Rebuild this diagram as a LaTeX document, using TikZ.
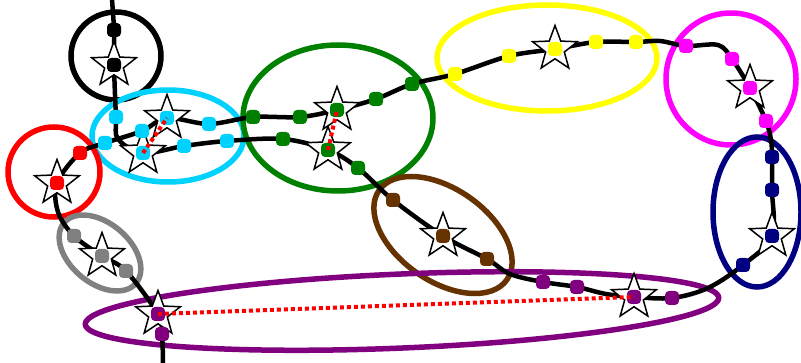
\documentclass[tikz,border=0pt]{standalone}
\usepackage{xcolor}
\usetikzlibrary{shapes.geometric, backgrounds}

\definecolor{grpCyan}{RGB}{0,210,255}
\definecolor{grpGreen}{RGB}{0,128,0}
\definecolor{grpYellow}{RGB}{255,255,0}
\definecolor{grpMagenta}{RGB}{255,0,255}
\definecolor{grpNavy}{RGB}{0,0,128}
\definecolor{grpBrown}{RGB}{102,51,0}
\definecolor{grpPurple}{RGB}{128,0,128}
\definecolor{grpGray}{RGB}{128,128,128}
\definecolor{grpRed}{RGB}{255,0,0}

\begin{document}
\begin{tikzpicture}[
    x=1pt, y=-1pt,
    ring/.style={line width=5.5pt},
    track/.style={line width=4.5pt, line cap=round, line join=round},
    dot/.style={
        rectangle, rounded corners=4pt, minimum size=14pt, inner sep=0pt
    },
    keystar/.style={
        star, star points=5, star point ratio=2.4, minimum size=47pt,
        inner sep=0pt, draw=black, line width=1.5pt, fill=white
    },
    link/.style={draw=red, line width=4pt, dash pattern=on 4pt off 3pt}
]
\useasboundingbox (0,0) rectangle (801,363);

% Stars
\node[keystar] (blkStar)  at (114,65)  {};
\node[keystar] (cynStarA) at (143,153) {};
\node[keystar] (cynStarB) at (167,118) {};
\node[keystar] (grnStarA) at (328,150) {};
\node[keystar] (grnStarB) at (337,110) {};
\node[keystar] (brnStar)  at (443,236) {};
\node[keystar] (purStarA) at (158,314) {};
\node[keystar] (purStarB) at (634,297) {};
\node[keystar] (navStar)  at (772,236) {};
\node[keystar] (magStar)  at (750,88)  {};
\node[keystar] (yelStar)  at (555,49)  {};
\node[keystar] (redStar)  at (57,183)  {};
\node[keystar] (gryStar)  at (102,256) {};

% Dots
\node[dot, fill=black] (blkA) at (114,30) {};
\node[dot, fill=black] (blkS) at (blkStar) {};

\node[dot, fill=grpCyan] (cynA) at (116,117) {};
\node[dot, fill=grpCyan] (cynSA) at (cynStarA) {};
\node[dot, fill=grpCyan] (cynB) at (184,146) {};
\node[dot, fill=grpCyan] (cynC) at (227,141) {};
\node[dot, fill=grpCyan] (cynD) at (209,124) {};
\node[dot, fill=grpCyan] (cynSB) at (cynStarB) {};
\node[dot, fill=grpCyan] (cynE) at (142,131) {};
\node[dot, fill=grpCyan] (cynF) at (105,143) {};

\node[dot, fill=grpGreen] (grnA) at (283,139) {};
\node[dot, fill=grpGreen] (grnSA) at (grnStarA) {};
\node[dot, fill=grpGreen] (grnB) at (358,168) {};
\node[dot, fill=grpGreen] (grnC) at (412,84) {};
\node[dot, fill=grpGreen] (grnD) at (376,99) {};
\node[dot, fill=grpGreen] (grnSB) at (grnStarB) {};
\node[dot, fill=grpGreen] (grnE) at (300,117) {};
\node[dot, fill=grpGreen] (grnF) at (253,117) {};

\node[dot, fill=grpBrown] (brnA) at (393,200) {};
\node[dot, fill=grpBrown] (brnS) at (brnStar) {};
\node[dot, fill=grpBrown] (brnB) at (487,259) {};

\node[dot, fill=grpPurple] (purA) at (543,282) {};
\node[dot, fill=grpPurple] (purB) at (577,287) {};
\node[dot, fill=grpPurple] (purSB) at (purStarB) {};
\node[dot, fill=grpPurple] (purC) at (672,298) {};
\node[dot, fill=grpPurple] (purSA) at (purStarA) {};
\node[dot, fill=grpPurple] (purD) at (162,334) {};

\node[dot, fill=grpNavy] (navA) at (743,265) {};
\node[dot, fill=grpNavy] (navS) at (navStar) {};
\node[dot, fill=grpNavy] (navB) at (772,190) {};
\node[dot, fill=grpNavy] (navC) at (772,157) {};

\node[dot, fill=grpMagenta] (magA) at (766,121) {};
\node[dot, fill=grpMagenta] (magS) at (magStar) {};
\node[dot, fill=grpMagenta] (magB) at (732,59) {};
\node[dot, fill=grpMagenta] (magC) at (686,46) {};

\node[dot, fill=grpYellow] (yelA) at (636,42) {};
\node[dot, fill=grpYellow] (yelB) at (596,42) {};
\node[dot, fill=grpYellow] (yelS) at (yelStar) {};
\node[dot, fill=grpYellow] (yelC) at (509,56) {};
\node[dot, fill=grpYellow] (yelD) at (455,74) {};

\node[dot, fill=grpRed] (redA) at (80,153) {};
\node[dot, fill=grpRed] (redS) at (redStar) {};

\node[dot, fill=grpGray] (gryA) at (74,236) {};
\node[dot, fill=grpGray] (gryS) at (gryStar) {};
\node[dot, fill=grpGray] (gryB) at (126,271) {};

% Free ends of the track
\coordinate (trkBegin) at (112,0);
\coordinate (trkEnd)   at (163,363);

\begin{pgfonlayer}{background}
% Clusters
\draw[ring, black]       (116,56)  ellipse [x radius=45pt, y radius=44pt];
\draw[ring, grpCyan]     (168,136) ellipse [x radius=76pt, y radius=46pt];
\draw[ring, grpRed]      (54,172)  ellipse [x radius=46pt, y radius=45pt];
\draw[ring, grpGreen]    (338,118) ellipse [x radius=95pt, y radius=73pt];
\draw[ring, grpYellow]   (547,58)  ellipse [x radius=110pt, y radius=53pt];
\draw[ring, grpMagenta]  (731,79)  ellipse [x radius=65pt, y radius=66pt];
\draw[ring, grpNavy]     (757,212) ellipse [x radius=44pt, y radius=75pt];
\draw[ring, grpBrown, rotate around={-35:(443,235)}]
    (443,235) ellipse [x radius=78pt, y radius=46pt];
\draw[ring, grpGray, rotate around={-40:(100,253)}]
    (100,253) ellipse [x radius=47pt, y radius=30pt];
\draw[ring, grpPurple, rotate around={2.4:(402,311)}]
    (402,311) ellipse [x radius=317pt, y radius=37pt];

% Track
\draw[track] plot[smooth, tension=0.55] coordinates {
    (trkBegin) (blkA.center) (blkS.center) (cynA.center) (118,139)
    (cynSA.center) (cynB.center) (cynC.center) (grnA.center)
    (grnSA.center) (grnB.center) (brnA.center) (brnS.center)
    (brnB.center) (510,274) (purA.center) (purB.center) (606,294)
    (purSB.center) (purC.center) (708,288) (navA.center) (navS.center)
    (navB.center) (navC.center) (771,140) (magA.center) (magS.center)
    (magB.center) (718,45) (magC.center) (660,41) (yelA.center)
    (yelB.center) (yelS.center) (yelC.center) (yelD.center)
    (grnC.center) (grnD.center) (grnSB.center) (grnE.center)
    (grnF.center) (cynD.center) (cynSB.center) (cynE.center)
    (cynF.center) (redA.center) (redS.center) (58,212) (gryA.center)
    (gryS.center) (gryB.center) (purSA.center) (purD.center) (trkEnd)
};
\end{pgfonlayer}

% Links
\draw[link] (cynStarA.center) -- (cynStarB.center);
\draw[link] (grnStarA.center) -- (grnStarB.center);
\draw[link] (purStarA.center) -- (purStarB.center);

\end{tikzpicture}
\end{document}
